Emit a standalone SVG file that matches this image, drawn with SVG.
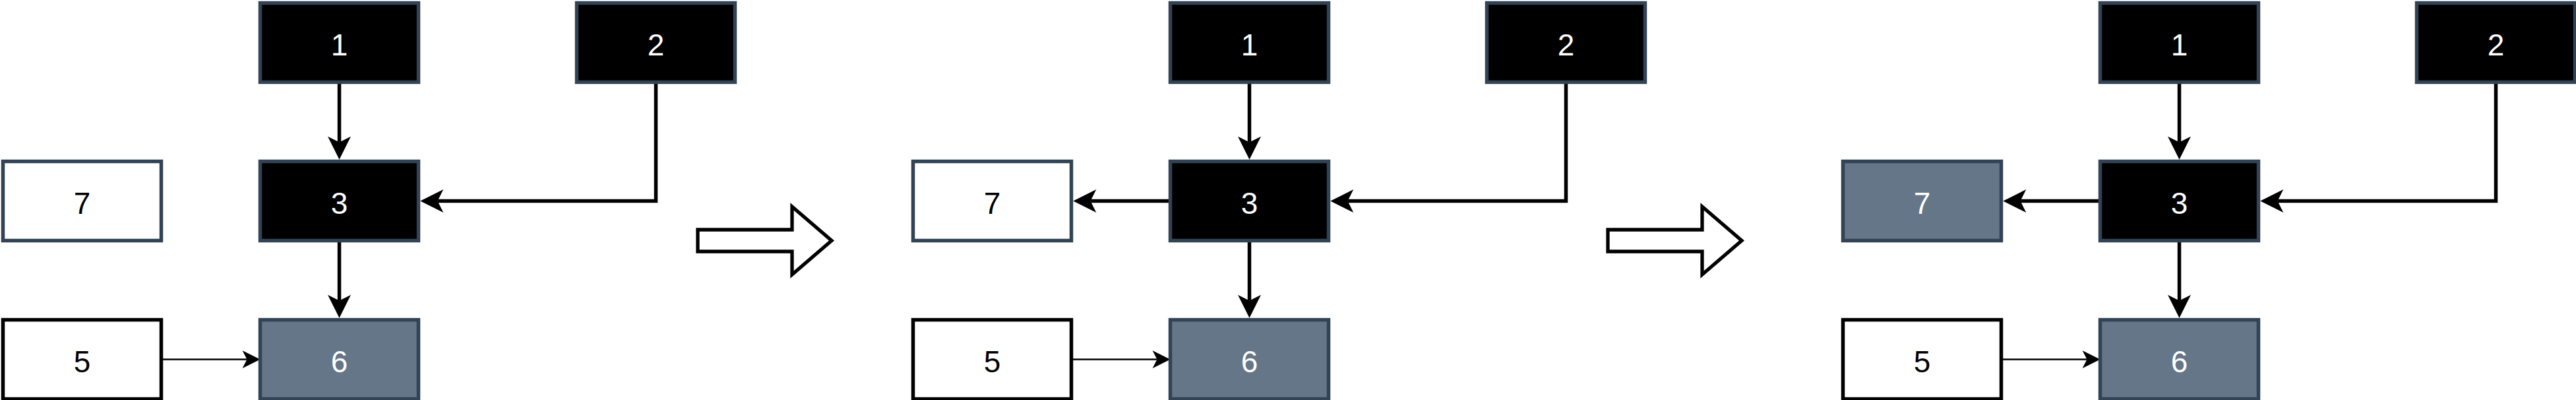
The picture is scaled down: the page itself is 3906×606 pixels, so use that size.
<svg xmlns="http://www.w3.org/2000/svg" width="3906" height="606" viewBox="0 0 3906 606">
  <style>
    .box { stroke-width: 5.5; }
    .dark { fill: #000000; stroke: #314354; }
    .gray { fill: #647687; stroke: #314354; }
    .light { fill: #ffffff; stroke: #314354; }
    .plain { fill: #ffffff; stroke: #000000; }
    .lbl { font-family: "Liberation Sans", Arial, sans-serif; font-size: 46px; text-anchor: middle; }
    .lw { fill: #ffffff; }
    .lb { fill: #000000; }
    .conn { fill: none; stroke: #000000; stroke-width: 5.5; stroke-linejoin: miter; }
    .thin { stroke-width: 2.6; }
    .big { fill: #ffffff; stroke: #000000; stroke-width: 5.3; stroke-linejoin: miter; }
  </style>
  <defs>
    <marker id="head" markerUnits="userSpaceOnUse" viewBox="-36 -19 37 38" markerWidth="37" markerHeight="38" refX="-26.25" refY="0" orient="auto" overflow="visible">
      <path d="M0,0 L-35,-17.5 L-26.25,0 L-35,17.5 Z" fill="#000000"/>
    </marker>
    <marker id="headThin" markerUnits="userSpaceOnUse" viewBox="-28 -15 29 30" markerWidth="29" markerHeight="30" refX="-20" refY="0" orient="auto" overflow="visible">
      <path d="M0,0 L-27,-13.5 L-20,0 L-27,13.5 Z" fill="#000000"/>
    </marker>
  </defs>

  <!-- Connectors -->
  <g id="connectors">
    <g id="connectors-panel1">
      <path class="conn" d="M514.5,124.5 V215.5" marker-end="url(#head)"/>
      <path class="conn" d="M994.5,124.5 V304.5 H663.5" marker-end="url(#head)"/>
      <path class="conn" d="M514.5,364.5 V455.5" marker-end="url(#head)"/>
      <path class="conn thin" d="M244.5,544.5 H374.5" marker-end="url(#headThin)"/>
    </g>
    <g id="connectors-panel2" transform="translate(1380,0)">
      <path class="conn" d="M514.5,124.5 V215.5" marker-end="url(#head)"/>
      <path class="conn" d="M994.5,124.5 V304.5 H663.5" marker-end="url(#head)"/>
      <path class="conn" d="M394.5,304.5 H273.5" marker-end="url(#head)"/>
      <path class="conn" d="M514.5,364.5 V455.5" marker-end="url(#head)"/>
      <path class="conn thin" d="M244.5,544.5 H374.5" marker-end="url(#headThin)"/>
    </g>
    <g id="connectors-panel3" transform="translate(2790,0)">
      <path class="conn" d="M514.5,124.5 V215.5" marker-end="url(#head)"/>
      <path class="conn" d="M994.5,124.5 V304.5 H663.5" marker-end="url(#head)"/>
      <path class="conn" d="M394.5,304.5 H273.5" marker-end="url(#head)"/>
      <path class="conn" d="M514.5,364.5 V455.5" marker-end="url(#head)"/>
      <path class="conn thin" d="M244.5,544.5 H374.5" marker-end="url(#headThin)"/>
    </g>
  </g>

  <!-- Panel 1 -->
  <g id="panel1">
    <g id="p1-node1"><rect class="box dark" x="394.5" y="4.5" width="240" height="120"/><text class="lbl lw" x="514.5" y="83.5">1</text></g>
    <g id="p1-node2"><rect class="box dark" x="874.5" y="4.5" width="240" height="120"/><text class="lbl lw" x="994.5" y="83.5">2</text></g>
    <g id="p1-node7"><rect class="box light" x="4.5" y="244.5" width="240" height="120"/><text class="lbl lb" x="124.5" y="323.5">7</text></g>
    <g id="p1-node3"><rect class="box dark" x="394.5" y="244.5" width="240" height="120"/><text class="lbl lw" x="514.5" y="323.5">3</text></g>
    <g id="p1-node5"><rect class="box plain" x="4.5" y="484.5" width="240" height="120"/><text class="lbl lb" x="124.5" y="563.5">5</text></g>
    <g id="p1-node6"><rect class="box gray" x="394.5" y="484.5" width="240" height="120"/><text class="lbl lw" x="514.5" y="563.5">6</text></g>
  </g>

  <g id="transition1">
    <polygon class="big" points="1058,348 1201,348 1201,313 1261,364.5 1201,416 1201,381 1058,381"/>
  </g>

  <!-- Panel 2 -->
  <g id="panel2" transform="translate(1380,0)">
    <g id="p2-node1"><rect class="box dark" x="394.5" y="4.5" width="240" height="120"/><text class="lbl lw" x="514.5" y="83.5">1</text></g>
    <g id="p2-node2"><rect class="box dark" x="874.5" y="4.5" width="240" height="120"/><text class="lbl lw" x="994.5" y="83.5">2</text></g>
    <g id="p2-node7"><rect class="box light" x="4.5" y="244.5" width="240" height="120"/><text class="lbl lb" x="124.5" y="323.5">7</text></g>
    <g id="p2-node3"><rect class="box dark" x="394.5" y="244.5" width="240" height="120"/><text class="lbl lw" x="514.5" y="323.5">3</text></g>
    <g id="p2-node5"><rect class="box plain" x="4.5" y="484.5" width="240" height="120"/><text class="lbl lb" x="124.5" y="563.5">5</text></g>
    <g id="p2-node6"><rect class="box gray" x="394.5" y="484.5" width="240" height="120"/><text class="lbl lw" x="514.5" y="563.5">6</text></g>
  </g>

  <g id="transition2">
    <polygon class="big" points="2438,348 2581,348 2581,313 2641,364.5 2581,416 2581,381 2438,381"/>
  </g>

  <!-- Panel 3 -->
  <g id="panel3" transform="translate(2790,0)">
    <g id="p3-node1"><rect class="box dark" x="394.5" y="4.5" width="240" height="120"/><text class="lbl lw" x="514.5" y="83.5">1</text></g>
    <g id="p3-node2"><rect class="box dark" x="874.5" y="4.5" width="240" height="120"/><text class="lbl lw" x="994.5" y="83.5">2</text></g>
    <g id="p3-node7"><rect class="box gray" x="4.5" y="244.5" width="240" height="120"/><text class="lbl lw" x="124.5" y="323.5">7</text></g>
    <g id="p3-node3"><rect class="box dark" x="394.5" y="244.5" width="240" height="120"/><text class="lbl lw" x="514.5" y="323.5">3</text></g>
    <g id="p3-node5"><rect class="box plain" x="4.5" y="484.5" width="240" height="120"/><text class="lbl lb" x="124.5" y="563.5">5</text></g>
    <g id="p3-node6"><rect class="box gray" x="394.5" y="484.5" width="240" height="120"/><text class="lbl lw" x="514.5" y="563.5">6</text></g>
  </g>
</svg>
